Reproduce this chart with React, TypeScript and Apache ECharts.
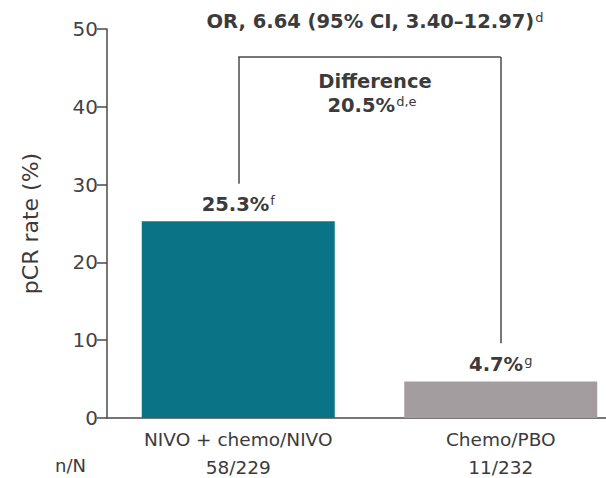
import React, { useEffect, useRef } from "react";
import * as echarts from "echarts";

const categories = ["NIVO + chemo/NIVO", "Chemo/PBO"];
const counts = ["58/229", "11/232"];
const values = [25.3, 4.7];
const valueSup = ["f", "g"];
const barColors = ["#0b7386", "#a39d9f"];
const yTicks = { min: 0, max: 50, interval: 10 };
const bracketTop = 46.4;
const bracketLeftBottom = 30.1;
const bracketRightBottom = 9.6;
const titleText = "OR, 6.64 (95% CI, 3.40–12.97)";
const titleSup = "d";
const diffLabel = "Difference";
const diffValue = "20.5%";
const diffSup = "d,e";
const nLabel = "n/N";

const FONT = "'DejaVu Sans', 'Noto Sans', sans-serif";
const TEXT = "#3b3b3b";
const AXIS = "#4a4a4a";

export default function App() {
  const ref = useRef<HTMLDivElement>(null);
  useEffect(() => {
    if (!ref.current) return;
    const chart = echarts.init(ref.current, null, { renderer: "svg" });
    const mkRich = (size: number) => ({
      v: { fontSize: size, fontWeight: "bold", color: TEXT, fontFamily: FONT },
      s: { fontSize: 13, fontWeight: "normal", color: TEXT, fontFamily: FONT, padding: [0, 0, 8, 1] },
    });
    chart.setOption({
      animation: false,
      textStyle: { fontFamily: FONT },
      title: [
        {
          text: `{v|${titleText}}{s|${titleSup}}`,
          left: 370,
          top: 6,
          textAlign: "center",
          textStyle: { rich: mkRich(19.5) },
        },
        {
          text: `{v|${diffLabel}}`,
          left: 370,
          top: 66,
          textAlign: "center",
          textStyle: { rich: mkRich(19.5) },
        },
        {
          text: `{v|${diffValue}}{s|${diffSup}}`,
          left: 367,
          top: 90,
          textAlign: "center",
          textStyle: { rich: mkRich(19.5) },
        },
      ],
      graphic: [
        {
          type: "text",
          left: 55,
          top: 456,
          style: { text: nLabel, font: `18px ${FONT}`, fill: TEXT },
        },
      ],
      grid: { left: 107, top: 29, height: 389, width: 525, outerBoundsMode: "none", containLabel: false },
      xAxis: {
        type: "category",
        data: categories,
        axisLine: { lineStyle: { color: AXIS, width: 1.5 } },
        axisTick: { show: false },
        axisLabel: {
          margin: 7,
          formatter: (v: string, i: number) => `{a|${v}}\n{b|${counts[i]}}`,
          rich: {
            a: { fontSize: 18.5, color: TEXT, fontFamily: FONT, lineHeight: 28 },
            b: { fontSize: 18.5, color: TEXT, fontFamily: FONT, lineHeight: 28 },
          },
        },
      },
      yAxis: {
        type: "value",
        min: yTicks.min,
        max: yTicks.max,
        interval: yTicks.interval,
        name: "pCR rate (%)",
        nameLocation: "middle",
        nameGap: 66,
        nameTextStyle: { fontSize: 22, color: TEXT, fontFamily: FONT },
        axisLine: { show: true, lineStyle: { color: AXIS, width: 1.5 } },
        axisTick: { show: true, length: 10, lineStyle: { color: AXIS, width: 1.5 } },
        axisLabel: { fontSize: 20, color: "#444", margin: 9, fontFamily: FONT },
        splitLine: { show: false },
      },
      series: [
        {
          type: "bar",
          barWidth: 193,
          data: values.map((v, i) => ({ value: v, itemStyle: { color: barColors[i] } })),
          label: {
            show: true,
            position: "top",
            distance: 6,
            formatter: (p: any) => `{v|${p.value}%}{s|${valueSup[p.dataIndex]}}`,
            rich: mkRich(19.5),
          },
          markLine: {
            silent: true,
            symbol: "none",
            label: { show: false },
            lineStyle: { color: AXIS, width: 1.5, type: "solid" },
            data: [
              [{ coord: [0, bracketLeftBottom] }, { coord: [0, bracketTop] }],
              [{ coord: [0, bracketTop] }, { coord: [1, bracketTop] }],
              [{ coord: [1, bracketTop] }, { coord: [1, bracketRightBottom] }],
            ],
          },
        },
      ],
    });
    return () => chart.dispose();
  }, []);
  return (
    <div
      ref={ref}
      style={{ position: "fixed", left: 0, top: 0, width: 606, height: 478, background: "#fff", overflow: "hidden" }}
    />
  );
}
